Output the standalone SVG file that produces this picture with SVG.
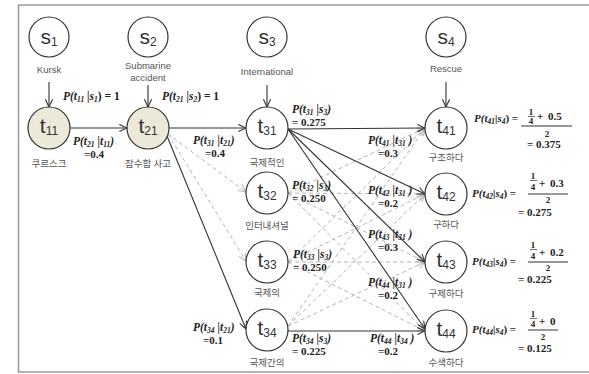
<svg xmlns="http://www.w3.org/2000/svg" width="589" height="374" viewBox="0 0 589 374">
<defs>
<style>
.frame{fill:none;stroke:#999;stroke-width:1.5}
.nd{fill:#fff;stroke:#333;stroke-width:1.2}
.nd.hi{fill:#ECE9DA}
.nt{font-family:"Liberation Sans",Arial,sans-serif;font-size:21px;fill:#333;text-anchor:middle}
.ns{font-size:12px}
.lb{font-family:"Liberation Sans","Noto Sans CJK KR",sans-serif;font-size:9.5px;fill:#555;text-anchor:middle}
.kr{font-family:"Noto Sans CJK KR",sans-serif;font-size:9.5px;fill:#555;text-anchor:middle}
.m{font-family:"Liberation Serif",serif;font-weight:bold;font-style:italic;font-size:11.5px;fill:#222}
.r{font-size:11px}
.v{font-family:"Liberation Serif",serif;font-weight:bold;font-size:11px;fill:#222}
.w{word-spacing:2px}
.sb{font-size:7.5px}
.up{font-style:normal}
.fs{font-family:"Liberation Serif",serif;font-weight:bold;font-size:9px;fill:#222;text-anchor:middle}
.bar{stroke:#333;stroke-width:1}
.sbar{stroke:#333;stroke-width:0.7}
.e{fill:none;stroke:#333;stroke-width:1.1;marker-end:url(#a)}
.d{fill:none;stroke:#b5b5b5;stroke-width:1;stroke-dasharray:4 3;marker-end:url(#ag)}
</style>
<marker id="a" viewBox="0 0 10 10" refX="9.5" refY="5" markerWidth="9" markerHeight="9" orient="auto" markerUnits="userSpaceOnUse"><path d="M1,1 L9.5,5 L1,9" fill="none" stroke="#333" stroke-width="1.2"/></marker>
<marker id="ag" viewBox="0 0 10 10" refX="9.5" refY="5" markerWidth="9" markerHeight="9" orient="auto" markerUnits="userSpaceOnUse"><path d="M1,1 L9.5,5 L1,9" fill="none" stroke="#b5b5b5" stroke-width="1.1"/></marker>
</defs>
<rect width="589" height="374" fill="#fff"/>
<rect class="frame" x="18.5" y="5" width="600" height="367"/>

<g id="connectors">
<line class="e" x1="49" y1="82" x2="49" y2="107"/>
<line class="e" x1="148" y1="85" x2="148" y2="107"/>
<line class="e" x1="267" y1="85" x2="267" y2="107"/>
<line class="e" x1="446" y1="82" x2="446" y2="107"/>
<line class="d" x1="168" y1="134" x2="246" y2="192"/>
<line class="d" x1="168" y1="134" x2="246" y2="261"/>
<line class="d" x1="288" y1="193" x2="425" y2="128"/>
<line class="d" x1="288" y1="193" x2="425" y2="194"/>
<line class="d" x1="288" y1="193" x2="425" y2="262"/>
<line class="d" x1="288" y1="193" x2="425" y2="331"/>
<line class="d" x1="288" y1="262" x2="425" y2="128"/>
<line class="d" x1="288" y1="262" x2="425" y2="194"/>
<line class="d" x1="288" y1="262" x2="425" y2="262"/>
<line class="d" x1="288" y1="262" x2="425" y2="331"/>
<line class="d" x1="288" y1="326" x2="425" y2="128"/>
<line class="d" x1="288" y1="326" x2="425" y2="194"/>
<line class="d" x1="288" y1="326" x2="425" y2="262"/>
<line class="e" x1="70" y1="128" x2="127" y2="128"/>
<line class="e" x1="169" y1="128" x2="246" y2="128"/>
<line class="e" x1="167" y1="136" x2="246" y2="329"/>
<line class="e" x1="288" y1="129" x2="425" y2="128"/>
<line class="e" x1="288" y1="129" x2="425" y2="194"/>
<line class="e" x1="288" y1="129" x2="425" y2="262"/>
<line class="e" x1="288" y1="129" x2="425" y2="329"/>
<line class="e" x1="288" y1="331" x2="425" y2="331"/>
</g>

<g id="s1"><circle class="nd" cx="49" cy="37" r="20"/><text class="nt" x="49" y="44">s<tspan class="ns" dy="2">1</tspan></text><text class="lb" x="49" y="73">Kursk</text></g>
<g id="s2"><circle class="nd" cx="148" cy="37" r="20"/><text class="nt" x="148" y="44">s<tspan class="ns" dy="2">2</tspan></text><text class="lb" x="148" y="69">Submarine</text><text class="lb" x="148" y="81">accident</text></g>
<g id="s3"><circle class="nd" cx="267" cy="37" r="20"/><text class="nt" x="267" y="44">s<tspan class="ns" dy="2">3</tspan></text><text class="lb" x="267" y="75">International</text></g>
<g id="s4"><circle class="nd" cx="446" cy="37" r="20"/><text class="nt" x="446" y="44">s<tspan class="ns" dy="2">4</tspan></text><text class="lb" x="446" y="72">Rescue</text></g>

<g id="t11"><circle class="nd hi" cx="49" cy="128" r="21"/><text class="nt" x="49" y="133">t<tspan class="ns" dy="1.5">11</tspan></text><text class="kr" x="49" y="167">쿠르스크</text></g>
<g id="t21"><circle class="nd hi" cx="148" cy="128" r="21"/><text class="nt" x="148" y="133">t<tspan class="ns" dy="1.5">21</tspan></text><text class="kr" x="148" y="167">잠수함 사고</text></g>
<g id="t31"><circle class="nd" cx="267" cy="128" r="21"/><text class="nt" x="267" y="133">t<tspan class="ns" dy="1.5">31</tspan></text><text class="kr" x="267" y="166">국제적인</text></g>
<g id="t32"><circle class="nd" cx="267" cy="193" r="21"/><text class="nt" x="267" y="198">t<tspan class="ns" dy="1.5">32</tspan></text><text class="kr" x="267" y="229">인터내셔널</text></g>
<g id="t33"><circle class="nd" cx="267" cy="262" r="21"/><text class="nt" x="267" y="267">t<tspan class="ns" dy="1.5">33</tspan></text><text class="kr" x="267" y="296">국제의</text></g>
<g id="t34"><circle class="nd" cx="267" cy="330" r="21"/><text class="nt" x="267" y="335">t<tspan class="ns" dy="1.5">34</tspan></text><text class="kr" x="267" y="366">국제간의</text></g>
<g id="t41"><circle class="nd" cx="446" cy="128" r="21"/><text class="nt" x="446" y="133">t<tspan class="ns" dy="1.5">41</tspan></text><text class="kr" x="446" y="161">구조하다</text></g>
<g id="t42"><circle class="nd" cx="446" cy="194" r="21"/><text class="nt" x="446" y="199">t<tspan class="ns" dy="1.5">42</tspan></text><text class="kr" x="446" y="228">구하다</text></g>
<g id="t43"><circle class="nd" cx="446" cy="262" r="21"/><text class="nt" x="446" y="267">t<tspan class="ns" dy="1.5">43</tspan></text><text class="kr" x="446" y="297">구제하다</text></g>
<g id="t44"><circle class="nd" cx="446" cy="331" r="21"/><text class="nt" x="446" y="336">t<tspan class="ns" dy="1.5">44</tspan></text><text class="kr" x="446" y="366">수색하다</text></g>

<g id="edge-labels">
<text class="m" x="63" y="100">P(t<tspan class="sb" dy="2">11</tspan><tspan dy="-2"> |s</tspan><tspan class="sb" dy="2">1</tspan><tspan class="up" dy="-2">) = 1</tspan></text>
<text class="m" x="162" y="100">P(t<tspan class="sb" dy="2">21</tspan><tspan dy="-2"> |s</tspan><tspan class="sb" dy="2">2</tspan><tspan class="up" dy="-2">) = 1</tspan></text>
<text class="m" x="73" y="145">P(t<tspan class="sb" dy="2">21</tspan><tspan dy="-2"> |t</tspan><tspan class="sb" dy="2">11</tspan><tspan dy="-2">)</tspan></text>
<text class="v" x="84" y="158">=0.4</text>
<text class="m" x="193" y="144">P(t<tspan class="sb" dy="2">31</tspan><tspan dy="-2"> |t</tspan><tspan class="sb" dy="2">21</tspan><tspan dy="-2">)</tspan></text>
<text class="v" x="205" y="157">=0.4</text>
<text class="m" x="292" y="113">P(t<tspan class="sb" dy="2">31</tspan><tspan dy="-2"> |s</tspan><tspan class="sb" dy="2">3</tspan><tspan dy="-2">)</tspan></text>
<text class="v" x="292" y="126">= 0.275</text>
<text class="m" x="368" y="144">P(t<tspan class="sb" dy="2">41</tspan><tspan dy="-2"> |t</tspan><tspan class="sb" dy="2">31</tspan><tspan dy="-2"> )</tspan></text>
<text class="v" x="378" y="157">=0.3</text>
<text class="m" x="292" y="189">P(t<tspan class="sb" dy="2">32</tspan><tspan dy="-2"> |s</tspan><tspan class="sb" dy="2">3</tspan><tspan dy="-2">)</tspan></text>
<text class="v" x="292" y="202">= 0.250</text>
<text class="m" x="368" y="194">P(t<tspan class="sb" dy="2">42</tspan><tspan dy="-2"> |t</tspan><tspan class="sb" dy="2">31</tspan><tspan dy="-2"> )</tspan></text>
<text class="v" x="378" y="207">=0.2</text>
<text class="m" x="368" y="238">P(t<tspan class="sb" dy="2">43</tspan><tspan dy="-2"> |t</tspan><tspan class="sb" dy="2">31</tspan><tspan dy="-2"> )</tspan></text>
<text class="v" x="378" y="251">=0.3</text>
<text class="m" x="293" y="258">P(t<tspan class="sb" dy="2">33</tspan><tspan dy="-2"> |s</tspan><tspan class="sb" dy="2">3</tspan><tspan dy="-2">)</tspan></text>
<text class="v" x="293" y="271">= 0.250</text>
<text class="m" x="368" y="286">P(t<tspan class="sb" dy="2">44</tspan><tspan dy="-2"> |t</tspan><tspan class="sb" dy="2">31</tspan><tspan dy="-2"> )</tspan></text>
<text class="v" x="378" y="299">=0.2</text>
<text class="m" x="193" y="331">P(t<tspan class="sb" dy="2">34</tspan><tspan dy="-2"> |t</tspan><tspan class="sb" dy="2">21</tspan><tspan dy="-2">)</tspan></text>
<text class="v" x="203" y="344">=0.1</text>
<text class="m" x="292" y="342">P(t<tspan class="sb" dy="2">34</tspan><tspan dy="-2"> |s</tspan><tspan class="sb" dy="2">3</tspan><tspan dy="-2">)</tspan></text>
<text class="v" x="292" y="355">= 0.225</text>
<text class="m" x="370" y="342">P(t<tspan class="sb" dy="2">44</tspan><tspan dy="-2"> |t</tspan><tspan class="sb" dy="2">34</tspan><tspan dy="-2"> )</tspan></text>
<text class="v" x="378" y="355">=0.2</text>
</g>

<g id="formulas">
<text class="m r" x="474" y="122">P(t<tspan class="sb" dy="2">41</tspan><tspan dy="-2">|s</tspan><tspan class="sb" dy="2">4</tspan><tspan class="up" dy="-2">) =</tspan></text>
<text class="fs" x="531" y="115">1</text><line class="sbar" x1="528" y1="116.5" x2="535" y2="116.5"/><text class="fs" x="531" y="124">4</text>
<text class="v w" x="537" y="120">+ 0.5</text>
<line class="bar" x1="521" y1="126" x2="572" y2="126"/>
<text class="fs" x="547" y="137">2</text>
<text class="v" x="527" y="148">= 0.375</text>

<text class="m r" x="472" y="197">P(t<tspan class="sb" dy="2">42</tspan><tspan dy="-2">|s</tspan><tspan class="sb" dy="2">4</tspan><tspan class="up" dy="-2">) =</tspan></text>
<text class="fs" x="533" y="179">1</text><line class="sbar" x1="530" y1="180.5" x2="537" y2="180.5"/><text class="fs" x="533" y="190">4</text>
<text class="v w" x="539" y="187">+ 0.3</text>
<line class="bar" x1="528" y1="194" x2="568" y2="194"/>
<text class="fs" x="548" y="203">2</text>
<text class="v" x="518" y="216">= 0.275</text>

<text class="m r" x="472" y="265">P(t<tspan class="sb" dy="2">43</tspan><tspan dy="-2">|s</tspan><tspan class="sb" dy="2">4</tspan><tspan class="up" dy="-2">) =</tspan></text>
<text class="fs" x="533" y="248">1</text><line class="sbar" x1="530" y1="249.5" x2="537" y2="249.5"/><text class="fs" x="533" y="259">4</text>
<text class="v w" x="539" y="256">+ 0.2</text>
<line class="bar" x1="528" y1="262" x2="568" y2="262"/>
<text class="fs" x="548" y="271">2</text>
<text class="v" x="518" y="283">= 0.225</text>

<text class="m r" x="472" y="333">P(t<tspan class="sb" dy="2">44</tspan><tspan dy="-2">|s</tspan><tspan class="sb" dy="2">4</tspan><tspan class="up" dy="-2">) =</tspan></text>
<text class="fs" x="533" y="317">1</text><line class="sbar" x1="530" y1="318.5" x2="537" y2="318.5"/><text class="fs" x="533" y="327">4</text>
<text class="v w" x="539" y="325">+ 0</text>
<line class="bar" x1="528" y1="330" x2="558" y2="330"/>
<text class="fs" x="543" y="340">2</text>
<text class="v" x="518" y="352">= 0.125</text>
</g>
</svg>
